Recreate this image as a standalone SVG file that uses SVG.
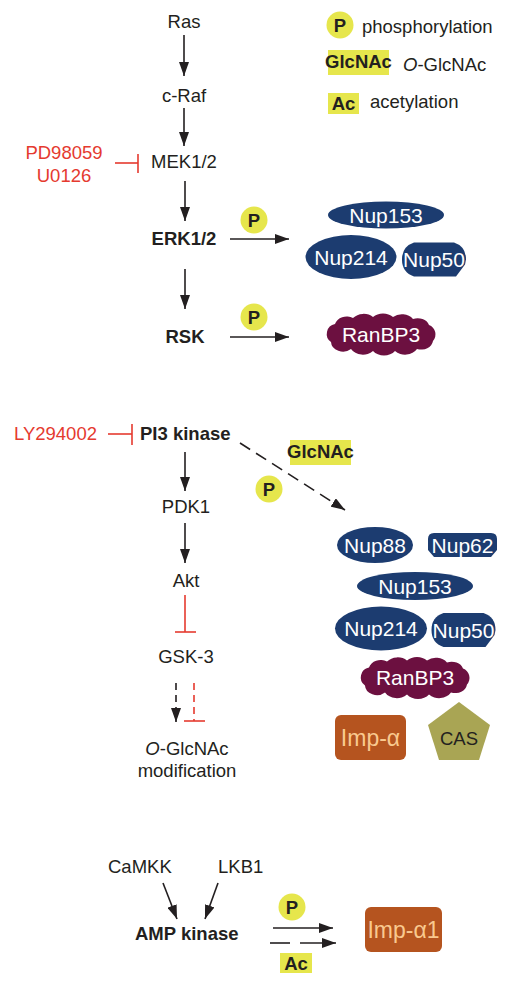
<svg xmlns="http://www.w3.org/2000/svg" width="510" height="986" viewBox="0 0 510 986">
<defs>
<style>
.t{font-family:"Liberation Sans",Arial,sans-serif;font-size:18.5px;fill:#231f20}
.c{text-anchor:middle}
.b{font-weight:bold}
.r{fill:#e53a2f}
.w{font-family:"Liberation Sans",Arial,sans-serif;font-size:21px;fill:#ffffff;text-anchor:middle}
.imp{font-family:"Liberation Sans",Arial,sans-serif;font-size:23px;fill:#f9c98f;text-anchor:middle}
.ln{stroke:#231f20;stroke-width:1.6;fill:none}
.arr{marker-end:url(#ah)}
.inh{stroke:#e53a2f;stroke-width:1.6;fill:none}
.dash{stroke-dasharray:12 7}
.pc{fill:#e6e64c}
.yb{fill:#e6e64c}
.navy{fill:#1c3c70}
.mar{fill:#6c1040}
.brn{fill:#b5541f}
.olv{fill:#a9a554}
</style>
<marker id="ah" markerUnits="userSpaceOnUse" markerWidth="14" markerHeight="10" refX="14" refY="5" orient="auto">
<path d="M0,0 L14,5 L0,10 Z" fill="#231f20"/>
</marker>
<path id="cloud" d="M -46,-10 A 12 10 0 0 1 -28,-16 A 14 12 0 0 1 -8,-17 A 14 12 0 0 1 12,-17 A 14 12 0 0 1 32,-15 A 12 10 0 0 1 48,-9 A 10 10 0 0 1 52,7 A 12 10 0 0 1 36,15 A 14 12 0 0 1 14,17 A 14 12 0 0 1 -8,17 A 14 12 0 0 1 -30,15 A 12 10 0 0 1 -50,8 A 10 10 0 0 1 -46,-10 Z"/>
<path id="oct" d="M -20,-17 L 20,-17 Q 32,-13 32,0 L 31,5 L 22,17 L -20,17 Q -32,13 -32,0 Q -32,-13 -20,-17 Z"/>
<g id="pmark"><circle r="13.5" class="pc"/><text class="t b c" y="6.5" font-size="18">P</text></g>
</defs>

<g id="legend">
<use href="#pmark" x="340" y="25"/>
<text class="t" x="362" y="33">phosphorylation</text>
<rect x="328" y="50" width="61" height="25" class="yb"/>
<text class="t b c" x="358.5" y="68" font-size="15">GlcNAc</text>
<text class="t" x="403" y="71"><tspan font-style="italic">O</tspan>-GlcNAc</text>
<rect x="328" y="93" width="31" height="21" class="yb"/>
<text class="t b c" x="343.5" y="110" font-size="19">Ac</text>
<text class="t" x="370" y="108">acetylation</text>
</g>

<g id="ras"><text class="t c" x="184" y="28">Ras</text></g>
<g id="craf"><text class="t c" x="184" y="102">c-Raf</text></g>
<g id="mek"><text class="t c" x="184" y="168">MEK1/2</text></g>
<g id="pd"><text class="t c r" x="64" y="159">PD98059</text><text class="t c r" x="64" y="182">U0126</text></g>
<g id="erk"><text class="t c b" x="184" y="245">ERK1/2</text></g>
<g id="rsk"><text class="t c b" x="185" y="343">RSK</text></g>

<g id="nup153a"><ellipse cx="386" cy="215" rx="58" ry="13.5" class="navy"/><text class="w" x="386" y="222.5">Nup153</text></g>
<g id="nup214a"><ellipse cx="351" cy="257" rx="45.5" ry="22" class="navy"/><text class="w" x="351" y="264.5">Nup214</text></g>
<g id="nup50a"><use href="#oct" x="434" y="259.5" class="navy"/><text class="w" x="434" y="267" font-size="20.5">Nup50</text></g>
<g id="ranbp3a"><use href="#cloud" x="381" y="334" class="mar"/><text class="w" x="381" y="341.5">RanBP3</text></g>

<g id="ly"><text class="t r" x="14" y="440">LY294002</text></g>
<g id="pi3"><text class="t b" x="140" y="440">PI3 kinase</text></g>
<g id="pdk1"><text class="t c" x="186" y="513">PDK1</text></g>
<g id="akt"><text class="t c" x="186" y="587">Akt</text></g>
<g id="gsk3"><text class="t c" x="186" y="663">GSK-3</text></g>
<g id="oglc"><text class="t c" x="187" y="755"><tspan font-style="italic">O</tspan>-GlcNAc</text><text class="t c" x="187" y="777">modification</text></g>

<g id="nup88"><ellipse cx="375" cy="545" rx="38" ry="18" class="navy"/><text class="w" x="375" y="552.5">Nup88</text></g>
<g id="nup62"><path d="M 434,533 L 491,533 Q 497,533 497,539 L 497,550 L 491,557 L 434,557 L 428,550 L 428,539 Q 428,533 434,533 Z" class="navy"/><text class="w" x="462.5" y="552.5">Nup62</text></g>
<g id="nup153b"><ellipse cx="415" cy="586" rx="58" ry="14" class="navy"/><text class="w" x="415" y="593.5">Nup153</text></g>
<g id="nup214b"><ellipse cx="381" cy="628.5" rx="46" ry="22" class="navy"/><text class="w" x="381" y="636">Nup214</text></g>
<g id="nup50b"><use href="#oct" x="463.5" y="630" class="navy"/><text class="w" x="463.5" y="637.5" font-size="20.5">Nup50</text></g>
<g id="ranbp3b"><use href="#cloud" x="415" y="677.5" class="mar"/><text class="w" x="415" y="685">RanBP3</text></g>
<g id="impa"><rect x="335" y="715" width="71" height="45" rx="6" class="brn"/><text class="imp" x="370.5" y="746">Imp-α</text></g>
<g id="cas"><polygon points="459,702 490,725 479,760 439,760 428,725" class="olv"/><text class="t c" x="459" y="745" font-size="21">CAS</text></g>
<g id="mods2">
<rect x="290" y="440" width="61" height="25" class="yb"/>
<text class="t b c" x="320.5" y="458" font-size="15">GlcNAc</text>
<use href="#pmark" x="269" y="489"/>
</g>

<g id="camkk"><text class="t" x="108" y="873">CaMKK</text></g>
<g id="lkb1"><text class="t" x="218" y="873">LKB1</text></g>
<g id="ampk"><text class="t b" x="135" y="940">AMP kinase</text></g>
<g id="impa1"><rect x="365" y="907" width="77" height="45" rx="6" class="brn"/><text class="imp" x="403.5" y="938">Imp-α1</text></g>
<g id="mods3">
<use href="#pmark" x="292" y="907"/>
<rect x="280" y="953" width="32" height="20" class="yb"/>
<text class="t b c" x="296" y="969.5" font-size="19">Ac</text>
</g>
<g id="mods1">
<use href="#pmark" x="254" y="220"/>
<use href="#pmark" x="254" y="317"/>
</g>

<g id="connectors">
<line class="ln arr" x1="184" y1="35" x2="184" y2="76"/>
<line class="ln arr" x1="184" y1="108" x2="184" y2="146"/>
<line class="inh" x1="115" y1="163" x2="138" y2="163"/>
<line class="inh" x1="138" y1="154" x2="138" y2="173"/>
<line class="ln arr" x1="185" y1="181" x2="185" y2="221"/>
<line class="ln arr" x1="230" y1="239" x2="289" y2="239"/>
<line class="ln arr" x1="185" y1="269" x2="185" y2="309"/>
<line class="ln arr" x1="230" y1="337" x2="289" y2="337"/>

<line class="inh" x1="108" y1="434" x2="132" y2="434"/>
<line class="inh" x1="132" y1="424" x2="132" y2="445"/>
<line class="ln arr" x1="185" y1="452" x2="185" y2="491"/>
<line class="ln arr" x1="185" y1="523" x2="185" y2="563"/>
<line class="inh" x1="185" y1="595" x2="185" y2="632"/>
<line class="inh" x1="175" y1="632" x2="196" y2="632"/>
<line class="ln arr dash" x1="176" y1="683" x2="176" y2="722" style="stroke-dasharray:7 5"/>
<line class="inh" x1="194" y1="683" x2="194" y2="721" style="stroke-dasharray:7 5"/>
<line class="inh" x1="184" y1="721" x2="205" y2="721"/>
<line class="ln arr dash" x1="240" y1="443" x2="345" y2="510"/>

<line class="ln arr" x1="163" y1="883" x2="177" y2="919"/>
<line class="ln arr" x1="218" y1="883" x2="205" y2="919"/>
<line class="ln arr" x1="273" y1="928" x2="333" y2="928"/>
<line class="ln" x1="270" y1="943" x2="290" y2="943"/>
<line class="ln arr" x1="300" y1="943" x2="336" y2="943"/>
</g>
</svg>
